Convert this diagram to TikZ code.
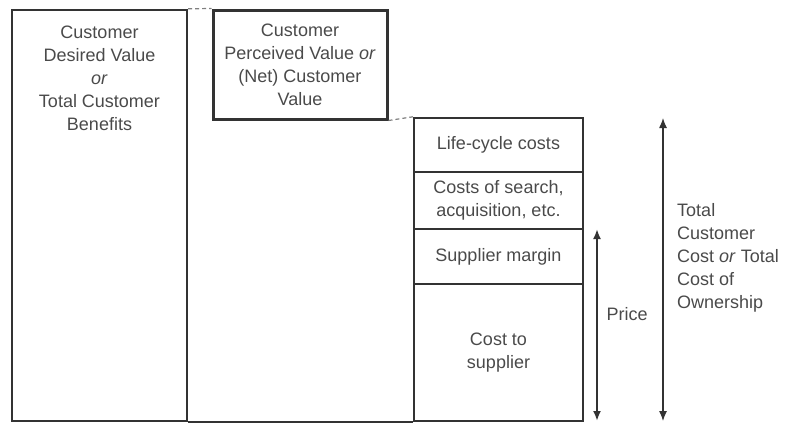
\documentclass[tikz,border=0pt]{standalone}
\usepackage{fontspec}
\setmainfont{Liberation Sans}
\usetikzlibrary{arrows.meta}
\definecolor{txt}{HTML}{4A4A4A}
\definecolor{ln}{HTML}{333333}
\begin{document}
\begin{tikzpicture}[x=1pt,y=-1pt,
  box/.style={draw=ln, line width=2.4pt, rectangle, inner sep=0pt, align=center, text=txt,
    font=\fontsize{18}{23}\selectfont},
  lbl/.style={text=txt, inner sep=0pt, font=\fontsize{18}{23}\selectfont},
  dashconn/.style={draw=gray, line width=1.2pt, dash pattern=on 4pt off 3pt},
  arr/.style={draw=ln, {Latex[length=10pt,width=8pt]}-{Latex[length=10pt,width=8pt]}}]
\useasboundingbox (0,0) rectangle (791,423);
\node[box, minimum width=175pt, minimum height=411pt] (left) at (99.5,215.5) {};
\node[lbl, align=center] (lefttext) at (99.5,78) {Customer\\Desired Value\\\textit{or}\\Total Customer\\Benefits};
\node[box, line width=3pt, minimum width=174pt, minimum height=109pt] (mid) at (300,64.5) {Customer\\Perceived Value \textit{or}\\(Net) Customer\\Value};
\node[box, minimum width=169pt, minimum height=54pt] (life) at (498.5,145) {Life-cycle costs};
\node[box, minimum width=169pt, minimum height=57pt] (search) at (498.5,200.5) {Costs of search,\\acquisition, etc.};
\node[box, minimum width=169pt, minimum height=55pt] (margin) at (498.5,256.5) {Supplier margin};
\node[box, minimum width=169pt, minimum height=137pt] (cost) at (498.5,352.5) {Cost to\\supplier};
\draw[draw=ln, line width=2.4pt] (left.south east) -- (cost.south west);
\draw[dashconn] (left.north east) -- (mid.north west);
\draw[dashconn] (mid.south east) -- (life.north west);
\coordinate (ptop) at (597,229);
\coordinate (pbot) at (597,421);
\coordinate (ttop) at (663,118);
\coordinate (tbot) at (663,421);
\draw[arr, line width=2pt] (ptop) -- (pbot);
\draw[arr, line width=1.2pt] (ttop) -- (tbot);
\node[lbl] (price) at (627,314) {Price};
\node[lbl, align=left, anchor=west] (total) at (677,258) {Total\\Customer\\Cost \textit{or} Total\\Cost of\\Ownership};
\end{tikzpicture}
\end{document}
